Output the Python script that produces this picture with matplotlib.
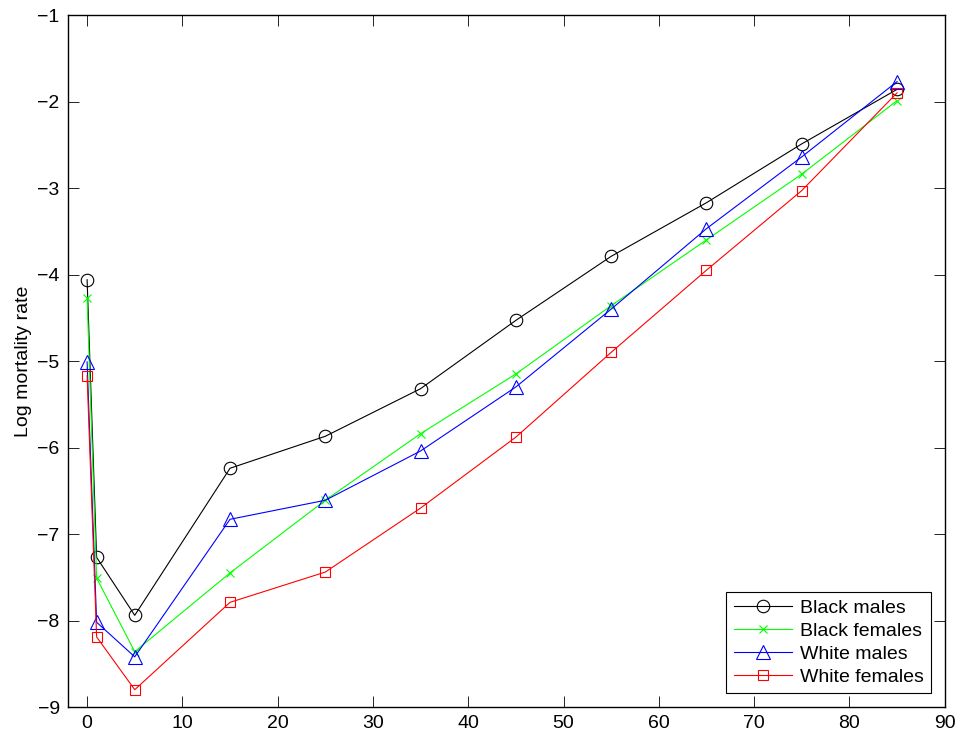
import matplotlib
matplotlib.use('Agg')
import matplotlib.pyplot as plt

plt.rcParams['font.family'] = ['Liberation Sans', 'DejaVu Sans']

ages = [0, 1, 5, 15, 25, 35, 45, 55, 65, 75, 85]
black_males = [-4.06, -7.27, -7.94, -6.24, -5.87, -5.32, -4.53, -3.79, -3.17, -2.49, -1.86]
black_females = [-4.27, -7.51, -8.36, -7.45, -6.61, -5.84, -5.15, -4.36, -3.60, -2.84, -1.99]
white_males = [-5.01, -8.02, -8.42, -6.83, -6.61, -6.04, -5.30, -4.40, -3.47, -2.64, -1.77]
white_females = [-5.17, -8.19, -8.80, -7.79, -7.44, -6.70, -5.88, -4.90, -3.95, -3.03, -1.90]

fig = plt.figure(figsize=(9.61, 7.36), dpi=100)
ax = fig.add_axes([0.0708, 0.0394, 0.9122, 0.9402])

style = dict(lw=0.8, mew=0.8, fillstyle='none')
ax.plot(ages, black_males, color='k', marker='o', ms=9, label='Black males', **style)
ax.plot(ages, black_females, color=(0, 1, 0), marker='x', ms=5.5, label='Black females', **style)
ax.plot(ages, white_males, color='b', marker='^', ms=10, label='White males', **style)
ax.plot(ages, white_females, color='r', marker='s', ms=7.5, label='White females', **style)

ax.set_xlim(-2, 90)
ax.set_ylim(-9, -1)
ax.set_xticks(range(0, 91, 10))
ax.set_yticks(range(-9, 0))
ax.tick_params(direction='in', top=True, right=True, labelsize=14, length=8, width=0.6, pad=6)
for s in ax.spines.values():
    s.set_linewidth(1.0)
ax.set_ylabel('Log mortality rate', fontsize=14, labelpad=4)

leg = ax.legend(loc='lower right', fontsize=14, handlelength=3.0, fancybox=False,
                edgecolor='k', framealpha=1, borderaxespad=0.7, labelspacing=0.28,
                borderpad=0.38, handletextpad=0.4)
leg.get_frame().set_linewidth(0.8)

fig.savefig('out.png', dpi=100)
